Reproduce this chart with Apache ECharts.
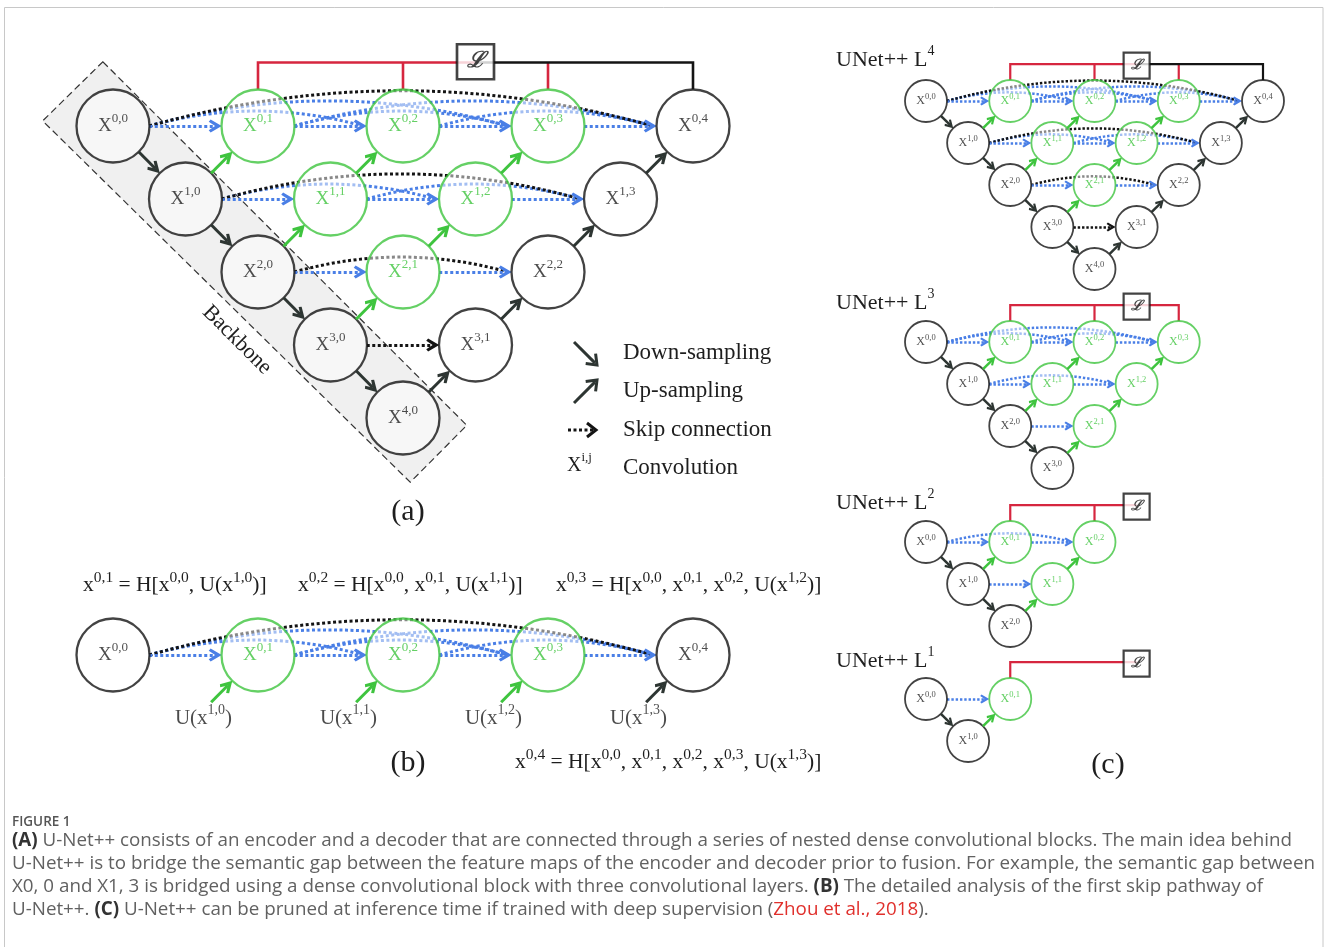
<!DOCTYPE html>
<html><head><meta charset="utf-8">
<script src="https://cdn.jsdelivr.net/npm/echarts@6/dist/echarts.min.js"></script>
<style>html,body{margin:0;padding:0;background:#fff}#c{width:1328px;height:947px}</style>
</head><body><div id="c"></div>
<script>
// ---------------- data ----------------
// Nodes X^{i,j} of the full UNet++ (depth 4), as [i, j]
const nodesFull = [[0,0],[1,0],[2,0],[3,0],[4,0],[0,1],[1,1],[2,1],[3,1],[0,2],[1,2],[2,2],[0,3],[1,3],[0,4]];
// Panel (b): first skip pathway and its up-sampled inputs
const pathwayNodes = [[0,0],[0,1],[0,2],[0,3],[0,4]];
const pathwayInputs = [[1,0],[1,1],[1,2],[1,3]];
// Panel (c): pruned depths
const prunedDepths = [4,3,2,1];
const prunedTitles = ['UNet++ L^{4}','UNet++ L^{3}','UNet++ L^{2}','UNet++ L^{1}'];
// Backbone box corners (node-grid units of panel a)
const backboneCorners = [[-0.14,-0.88],[4.88,4.1],[4.1,4.88],[-0.97,-0.07]];
const legendLabels = ['Down-sampling','Up-sampling','Skip connection','Convolution'];
const legendSymbolText = 'X^{i,j}';
const panelLabels = ['(a)','(b)','(c)'];
const equationsTop = ['x^{0,1} = H[x^{0,0}, U(x^{1,0})]','x^{0,2} = H[x^{0,0}, x^{0,1}, U(x^{1,1})]','x^{0,3} = H[x^{0,0}, x^{0,1}, x^{0,2}, U(x^{1,2})]'];
const equationBottom = 'x^{0,4} = H[x^{0,0}, x^{0,1}, x^{0,2}, x^{0,3}, U(x^{1,3})]';
const lossSymbol = 'ℒ';
const captionTitle = 'FIGURE 1';
const captionLines = [
  '{b|(A)} U-Net++ consists of an encoder and a decoder that are connected through a series of nested dense convolutional blocks. The main idea behind',
  'U-Net++ is to bridge the semantic gap between the feature maps of the encoder and decoder prior to fusion. For example, the semantic gap between',
  'X0, 0 and X1, 3 is bridged using a dense convolutional block with three convolutional layers. {b|(B)} The detailed analysis of the first skip pathway of',
  'U-Net++. {b|(C)} U-Net++ can be pruned at inference time if trained with deep supervision ({r|Zhou et al., 2018}).'
];

// ---------------- styles / layout ----------------
const SERIF = '"Liberation Serif","Times New Roman",serif';
const SANS = '"Open Sans","Noto Sans",sans-serif';
const COL = {green:'#3ec43e', blue:'#4a7fe6', red:'#d6263f', dark:'#2d3532', ink:'#1e1e1e', black:'#141414'};
const CHEV = 'path://M5,0L10,8.2L8.2,9.6L5,4.9L1.8,9.6L0,8.2Z';
const styleA = {sym:73,bw:2.3,lw:3,dash:[3,2.5],head:13,hs:0.09,font:19,sup:13,box:[37,35],boxFont:22,brW:2.6,bv:-0.87,boxV:-0.88,curv:0.14};
const styleC = {sym:42,bw:1.8,lw:2.5,dash:[2.4,1.9],head:9,hs:0.107,font:12,sup:8.5,box:[26,26],boxFont:14,brW:2.2,bv:-0.88,boxV:-0.84,curv:0.14};
const layouts = {
  a:{left:113,top:126,width:580,height:292,ymax:4},
  b:{left:113,top:655,width:580,height:73,ymax:1},
  c:[{left:926,top:101},{left:926,top:342},{left:926,top:542},{left:926,top:699}]
};

const P = (i,j) => [i + 2*j, i];
const isBlack = (i,j) => j === 0 || i + j === 4;
function seg(p,q,r0,r1){const dx=q[0]-p[0],dy=q[1]-p[1],d=Math.hypot(dx,dy);return [[p[0]+dx/d*r0,p[1]+dy/d*r0],[q[0]-dx/d*r1,q[1]-dy/d*r1]];}
function supRich(str, base, sup){
  return str.split(/(\^\{[^}]*\})/).filter(s=>s.length).map(s=>{
    if (s.startsWith('^{')) return '{'+sup+'|'+s.slice(2,-1)+'}';
    return '{'+base+'|'+s+'}';
  }).join('');
}

const grids=[], xAxes=[], yAxes=[], series=[];
function addGrid(l){
  grids.push({left:l.left,top:l.top,width:l.width,height:l.height,show:false});
  const g=grids.length-1;
  xAxes.push({type:'value',gridIndex:g,min:0,max:8,show:false});
  yAxes.push({type:'value',gridIndex:g,min:0,max:l.ymax,inverse:true,show:false});
  return g;
}
function lineSeries(g,data,color,st,o){
  return {type:'lines',coordinateSystem:'cartesian2d',xAxisIndex:g,yAxisIndex:g,polyline:!!o.polyline,clip:false,silent:true,z:o.z,
    symbol:o.arrow?['none',CHEV]:'none',symbolSize:o.arrow?[0,st.head]:0,
    lineStyle:{color:color,width:o.width||st.lw,type:o.dash?st.dash:'solid',curveness:o.curv||0,opacity:1,cap:'butt'},
    data:data.map(c=>({coords:c}))};
}
function nodeSeries(g,nodes,color,textColor,st){
  return {type:'scatter',xAxisIndex:g,yAxisIndex:g,clip:false,silent:true,z:4,symbol:'circle',symbolSize:st.sym,
    itemStyle:{color:'rgba(255,255,255,0.62)',borderColor:color,borderWidth:st.bw},
    label:{show:true,position:'inside',color:textColor,formatter:p=>'{x|X}{s|'+p.data.lab+'}',
      rich:{x:{fontFamily:SERIF,fontSize:st.font,lineHeight:Math.round(st.font*1.45),color:textColor},
            s:{fontFamily:SERIF,fontSize:st.sup,lineHeight:st.sup,verticalAlign:'top',color:textColor}}},
    data:nodes.map(([i,j])=>({value:P(i,j),lab:i+','+j}))};
}

function buildPanel(g,nodes,st,opts){
  const r=0.5, hs=st.hs;
  const has=(list,i,j)=>list.some(n=>n[0]===i&&n[1]===j);
  const rows={};
  nodes.forEach(([i,j])=>{(rows[i]=rows[i]||[]).push(j);});
  const sBlue=[],sBlack=[],aBlue=[],aBlack=[];
  Object.keys(rows).forEach(k=>{
    const i=+k, js=rows[k].slice().sort((a,b)=>a-b);
    for(let a=0;a<js.length;a++)for(let b=a+1;b<js.length;b++){
      const s=P(i,js[a]),t=P(i,js[b]);
      const black=js[a]===0&&i+js[b]===4;
      if(b===a+1)(black?sBlack:sBlue).push([[s[0]+r,s[1]],[t[0]-r-hs,t[1]]]);
      else (black?aBlack:aBlue).push([[s[0]+r,s[1]],[t[0]-r-hs*0.6,t[1]]]);
    }
  });
  series.push(lineSeries(g,aBlue,COL.blue,st,{dash:true,curv:st.curv,z:2}));
  series.push(lineSeries(g,aBlack,COL.black,st,{dash:true,curv:st.curv,z:2}));
  series.push(lineSeries(g,sBlue,COL.blue,st,{dash:true,arrow:true,z:3}));
  series.push(lineSeries(g,sBlack,COL.black,st,{dash:true,arrow:true,z:3}));
  // up / down sampling
  const upG=[],upD=[],down=[];
  const phantoms=opts.phantoms||[];
  nodes.forEach(([i,j])=>{
    if(j>=1&&(has(nodes,i+1,j-1)||has(phantoms,i+1,j-1))){
      const c=seg(P(i+1,j-1),P(i,j),r,r+hs);
      (isBlack(i,j)?upD:upG).push(c);
    }
    if(j===0&&has(nodes,i+1,0))down.push(seg(P(i,0),P(i+1,0),r,r+hs));
  });
  series.push(lineSeries(g,upG,COL.green,st,{arrow:true,z:5}));
  series.push(lineSeries(g,upD.concat(down),COL.dark,st,{arrow:true,z:5}));
  // nodes
  series.push(nodeSeries(g,nodes.filter(([i,j])=>!isBlack(i,j)),COL.green,COL.green,st));
  series.push(nodeSeries(g,nodes.filter(([i,j])=>isBlack(i,j)),COL.black,COL.ink,st));
  // loss bracket
  if(opts.depth){
    const d=opts.depth,bv=st.bv,red=[],blk=[];
    red.push([[2,-r],[2,bv],[5,bv]]);
    for(let j=2;j<=d;j++){
      const x=2*j;
      if(x<5||j<d)red.push([[x,-r],[x,bv]]);
    }
    if(d>=3){const rp=[[5,bv],[2*d,bv],[2*d,-r]];(d===4?blk:red).push(rp);}
    series.push(lineSeries(g,red,COL.red,st,{polyline:true,width:st.brW,z:1}));
    series.push(lineSeries(g,blk,COL.black,st,{polyline:true,width:st.brW,z:1}));
    series.push({type:'scatter',xAxisIndex:g,yAxisIndex:g,clip:false,silent:true,z:6,symbol:'rect',symbolSize:st.box,
      itemStyle:{color:'#fff',borderColor:COL.black,borderWidth:st.brW},
      label:{show:true,position:'inside',formatter:lossSymbol,fontFamily:SERIF,fontStyle:'italic',fontWeight:'bold',fontSize:st.boxFont,color:COL.black},
      data:[[5,st.boxV]]});
  }
}

// panel (a)
const gA=addGrid(layouts.a);
series.push({type:'custom',coordinateSystem:'cartesian2d',xAxisIndex:gA,yAxisIndex:gA,clip:false,silent:true,z:0,data:[[0,0]],
  renderItem:(params,api)=>({type:'polygon',shape:{points:backboneCorners.map(c=>api.coord(c))},
    style:{fill:'#f0f0f0',stroke:'#333',lineWidth:1.2,lineDash:[7,4]}})});
buildPanel(gA,nodesFull,styleA,{depth:4});
// panel (b)
const gB=addGrid(layouts.b);
buildPanel(gB,pathwayNodes,styleA,{phantoms:pathwayInputs});
series.push({type:'scatter',xAxisIndex:gB,yAxisIndex:gB,clip:false,silent:true,z:6,symbolSize:0,itemStyle:{color:'rgba(0,0,0,0)'},
  label:{show:true,position:'inside',offset:[18,-10],formatter:p=>'{x|U(x}{s|'+p.data.lab+'}{x|)}',
    rich:{x:{fontFamily:SERIF,fontSize:21,lineHeight:29,color:COL.ink},s:{fontFamily:SERIF,fontSize:14,lineHeight:14,verticalAlign:'top',color:COL.ink}}},
  data:pathwayInputs.map(([i,j])=>({value:P(i,j),lab:i+','+j}))});
// panel (c)
prunedDepths.forEach((d,k)=>{
  const l=layouts.c[k];
  const g=addGrid({left:l.left,top:l.top,width:337,height:168,ymax:4});
  buildPanel(g,nodesFull.filter(([i,j])=>i+j<=d),styleC,{depth:d});
});

// ---------------- graphic (texts, legend, frame) ----------------
const richSerif=(fs,ss)=>({t:{fontFamily:SERIF,fontSize:fs,lineHeight:Math.round(fs*1.45),fill:COL.ink,color:COL.ink},
  s:{fontFamily:SERIF,fontSize:ss,lineHeight:ss,verticalAlign:'top',fill:COL.ink,color:COL.ink}});
function gText(x,y,str,fs,ss,align){
  return {type:'text',x:x,y:y,silent:true,z:10,style:{text:supRich(str,'t','s'),rich:richSerif(fs,ss),fontFamily:SERIF,fontSize:fs,fill:COL.ink,
    align:align||'left',verticalAlign:'middle',textAlign:align||'left',textVerticalAlign:'middle'}};
}
function gArrow(x1,y1,x2,y2,color,dash){
  const ang=Math.atan2(y2-y1,x2-x1),back=3;
  return [
    {type:'line',silent:true,z:10,shape:{x1:x1,y1:y1,x2:x2-Math.cos(ang)*back,y2:y2-Math.sin(ang)*back},style:{stroke:color,lineWidth:3,lineDash:dash||null}},
    {type:'polyline',silent:true,z:10,x:x2,y:y2,rotation:-ang,shape:{points:[[-9,-7],[0,0],[-9,7]]},style:{stroke:color,lineWidth:3,fill:'none',lineJoin:'miter'}}
  ];
}
const graphics=[];
graphics.push({type:'rect',silent:true,z:0,shape:{x:4.5,y:7.5,width:1318.5,height:960},style:{fill:'none',stroke:'#c8c8c8',lineWidth:1}});
// legend of (a)
const legY=[353,391,430,468];
graphics.push(...gArrow(574,342,597,365,COL.dark));
graphics.push(...gArrow(574,403,597,380,COL.dark));
graphics.push(...gArrow(568,430,596,430,COL.black,[3,2.5]));
graphics.push(gText(567,466,legendSymbolText,20,13));
legendLabels.forEach((t,k)=>graphics.push(gText(623,legY[k],t,23,14)));
// Backbone label
graphics.push({type:'text',x:237,y:340,rotation:-Math.PI/4,silent:true,z:10,style:{text:'Backbone',fontFamily:SERIF,fontSize:22,fill:COL.ink,
  align:'center',verticalAlign:'middle',textAlign:'center',textVerticalAlign:'middle'}});
// panel labels
graphics.push(gText(408,512,panelLabels[0],30,18,'center'));
graphics.push(gText(408,763,panelLabels[1],30,18,'center'));
graphics.push(gText(1108,765,panelLabels[2],30,18,'center'));
// equations
[83,298,556].forEach((x,k)=>graphics.push(gText(x,585,equationsTop[k],21.5,15.5)));
graphics.push(gText(515,762,equationBottom,21.5,15.5));
// panel (c) titles
[60,303,503,661].forEach((y,k)=>graphics.push(gText(836,y,prunedTitles[k],22,14)));
// caption
graphics.push({type:'text',x:12,y:822,silent:true,style:{text:captionTitle,fontFamily:SANS,fontSize:13.5,fontWeight:600,fill:'#555',
  align:'left',verticalAlign:'middle',textAlign:'left',textVerticalAlign:'middle'}});
captionLines.forEach((t,k)=>graphics.push({type:'text',x:12,y:841+23*k,silent:true,style:{text:t,fontFamily:SANS,fontSize:18.8,fill:'#616161',
  align:'left',verticalAlign:'middle',textAlign:'left',textVerticalAlign:'middle',
  rich:{b:{fontFamily:SANS,fontSize:18.8,fontWeight:'bold',fill:'#333',color:'#333'},r:{fontFamily:SANS,fontSize:18.8,fill:'#e0302c',color:'#e0302c'}}}}));

const chart=echarts.init(document.getElementById('c'),null,{renderer:'canvas'});
chart.setOption({animation:false,backgroundColor:'#fff',grid:grids,xAxis:xAxes,yAxis:yAxes,series:series,graphic:{elements:graphics}});
</script></body></html>
